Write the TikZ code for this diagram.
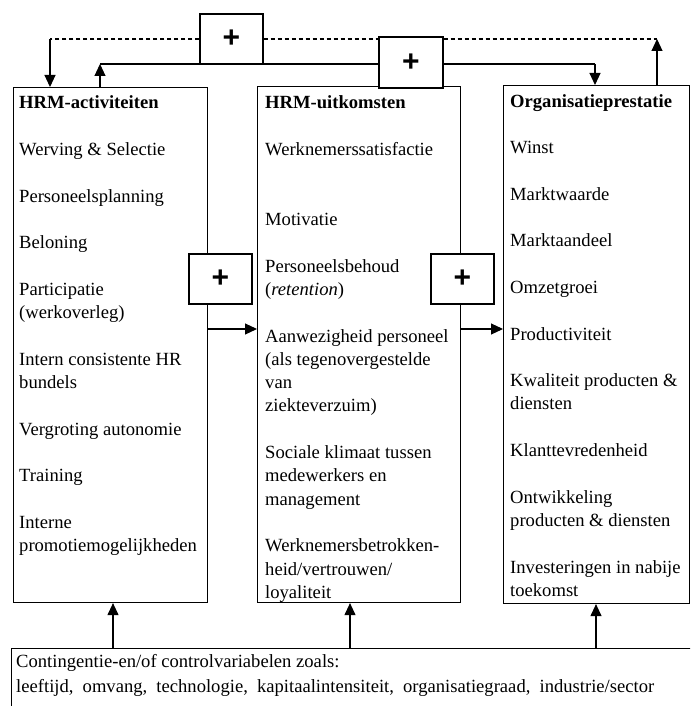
\documentclass[tikz,border=0pt]{standalone}
\usepackage{fontspec}
\setmainfont{Liberation Serif}
\setsansfont{Liberation Sans}
\usetikzlibrary{arrows.meta}
\newcommand{\itemgap}{\\[23.3pt]}
\newcommand{\coltxt}[1]{\parbox[t]{230pt}{\fontsize{18.6}{23.3}\selectfont\raggedright #1}}
\begin{document}
\begin{tikzpicture}[x=1pt,y=-1pt,
  colbox/.style={draw, line width=1.1pt, inner sep=0pt, anchor=north west},
  plusbox/.style={draw, fill=white, line width=1.1pt, inner sep=0pt,
    font=\fontsize{30}{30}\sffamily\bfseries\selectfont},
  conn/.style={line width=1.1pt},
  dconn/.style={line width=1.1pt, dash pattern=on 4pt off 3pt},
  tip/.style={-{Triangle[length=12pt,width=11pt]}},
  coltext/.style={anchor=base west, inner sep=0pt}
]
\useasboundingbox (0,0) rectangle (690,706);
\fill[white] (0,0) rectangle (690,706);
\clip (0,0) rectangle (690,706);

% column boxes
\node[colbox, minimum width=194pt, minimum height=515pt] (act) at (13,87) {};
\node[colbox, minimum width=203pt, minimum height=516pt] (out) at (257,86) {};
\node[colbox, minimum width=186pt, minimum height=518pt] (org) at (503,85) {};
\node[colbox, minimum width=700pt, minimum height=80pt] (cont) at (11,648) {};

% helper coordinates for connector positions
\coordinate (dl) at (50,39);
\coordinate (dr) at (657,39);
\coordinate (sl) at (100,64);
\coordinate (sr) at (595,64);
\coordinate (mid) at (0,329);
\coordinate (b1) at (113,0);
\coordinate (b2) at (350,0);
\coordinate (b3) at (596,0);

% plus boxes (drawn later on top), defined now for names
\node[plusbox, minimum width=63pt, minimum height=50pt] (p1) at (231.5,39) {\raisebox{-3pt}{+}};
\node[plusbox, minimum width=64pt, minimum height=51pt] (p2) at (411,62.5) {\raisebox{-3pt}{+}};

% top connectors
\draw[dconn] (p1.west) -- (dl);
\draw[conn, tip] (dl) -- (act.north -| dl);
\draw[dconn] (p1.east) -- (p2.west |- p1.east);
\draw[dconn] (p2.east |- p1.east) -- (dr);
\draw[conn, tip] (org.north -| dr) -- (dr);
\draw[conn, tip] (act.north -| sl) -- (sl);
\draw[conn] (sl) -- (p2.west |- sl);
\draw[conn] (p2.east |- sl) -- (sr);
\draw[conn, tip] (sr) -- (org.north -| sr);

% redraw plus boxes on top
\node[plusbox, minimum width=63pt, minimum height=50pt] (p1b) at (p1) {\raisebox{-3pt}{+}};
\node[plusbox, minimum width=64pt, minimum height=51pt] (p2b) at (p2) {\raisebox{-3pt}{+}};

% middle connectors
\draw[conn, tip] (act.east |- mid) -- (out.west |- mid);
\draw[conn, tip] (out.east |- mid) -- (org.west |- mid);
\node[plusbox, minimum width=63pt, minimum height=50pt] (p3) at (220.5,279) {\raisebox{-3pt}{+}};
\node[plusbox, minimum width=63pt, minimum height=50pt] (p4) at (462.5,279) {\raisebox{-3pt}{+}};

% bottom connectors
\draw[conn, tip] (cont.north -| b1) -- (act.south -| b1);
\draw[conn, tip] (cont.north -| b2) -- (out.south -| b2);
\draw[conn, tip] (cont.north -| b3) -- (org.south -| b3);

% column texts
\node[coltext] (tact) at (19,109) {\coltxt{\textbf{HRM-activiteiten}\itemgap
Werving \& Selectie\itemgap
Personeelsplanning\itemgap
Beloning\itemgap
Participatie\\
(werkoverleg)\itemgap
Intern consistente HR\\
bundels\itemgap
Vergroting autonomie\itemgap
Training\itemgap
Interne\\
promotiemogelijkheden}};

\node[coltext] (tout) at (265,109) {\coltxt{\textbf{HRM-uitkomsten}\itemgap
Werknemerssatisfactie\\[46.6pt]
Motivatie\itemgap
Personeelsbehoud\\
(\textit{retention})\itemgap
Aanwezigheid personeel\\
(als tegenovergestelde\\
van\\
ziekteverzuim)\itemgap
Sociale klimaat tussen\\
medewerkers en\\
management\itemgap
Werknemersbetrokken-\\
heid/vertrouwen/\\
loyaliteit}};

\node[coltext] (torg) at (510,107) {\coltxt{\textbf{Organisatieprestatie}\itemgap
Winst\itemgap
Marktwaarde\itemgap
Marktaandeel\itemgap
Omzetgroei\itemgap
Productiviteit\itemgap
Kwaliteit producten \&\\
diensten\itemgap
Klanttevredenheid\itemgap
Ontwikkeling\\
producten \& diensten\itemgap
Investeringen in nabije\\
toekomst}};

\node[anchor=base west, inner sep=0pt] (tcont) at (16,667) {\parbox[t]{670pt}{\fontsize{18.6}{25}\selectfont
Contingentie-en/of controlvariabelen zoals:\\
\makebox[638pt][s]{leeftijd, omvang, technologie, kapitaalintensiteit, organisatiegraad, industrie/sector}}};
\end{tikzpicture}
\end{document}
